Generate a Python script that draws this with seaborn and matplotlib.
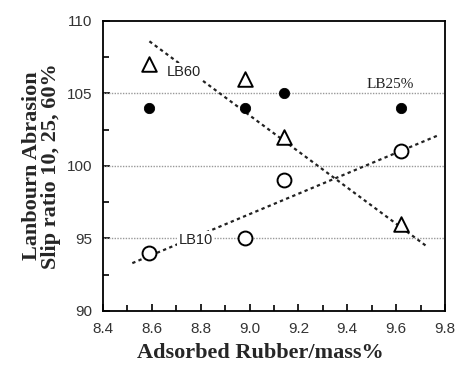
import numpy as np
import matplotlib
matplotlib.use("Agg")
import matplotlib.pyplot as plt
import seaborn as sns
from matplotlib.ticker import MultipleLocator

# Measured points
rubber = [8.59, 8.98, 9.14, 9.62]
lb60 = [107.0, 106.0, 102.0, 96.0]
lb25 = [104.0, 104.0, 105.0, 104.0]
lb10 = [94.0, 95.0, 99.0, 101.0]

# Dotted trend lines (end points)
lb60_fit_x = [8.59, 9.73]
lb60_fit_y = [108.6, 94.4]
lb10_fit_x = [8.52, 9.77]
lb10_fit_y = [93.3, 102.1]

grid_levels = [95, 100, 105]

sns.set_theme(style="white")
plt.rcParams["font.family"] = ["Liberation Sans", "DejaVu Sans"]

fig = plt.figure(figsize=(4.59, 3.67), dpi=100)
ax = fig.add_axes([0.2244, 0.1526, 0.7451, 0.7902])

for lv in grid_levels:
    ax.axhline(lv, color="#999999", lw=1.0, ls=(0, (1, 1)), zorder=1)

sns.lineplot(x=lb60_fit_x, y=lb60_fit_y, ax=ax, color="#222222", lw=1.6,
             linestyle=(0, (1.5, 1.5)), zorder=2)
sns.lineplot(x=lb10_fit_x, y=lb10_fit_y, ax=ax, color="#222222", lw=1.6,
             linestyle=(0, (1.5, 1.5)), zorder=2)

sns.scatterplot(x=rubber, y=lb60, ax=ax, marker="^", s=110, facecolor="white",
                edgecolor="black", linewidth=1.4, zorder=4)
sns.scatterplot(x=rubber, y=lb25, ax=ax, marker="o", s=55, color="black",
                edgecolor="black", zorder=4)
sns.scatterplot(x=rubber, y=lb10, ax=ax, marker="o", s=100, facecolor="white",
                edgecolor="black", linewidth=1.4, zorder=4)

box = dict(facecolor="white", edgecolor="none", pad=1)
ax.text(8.66, 106.5, "LB60", fontsize=10.5, color="#222222", va="center",
        bbox=box, zorder=3)
ax.text(8.71, 94.9, "LB10", fontsize=10.5, color="#222222", va="center",
        bbox=box, zorder=3)
ax.text(9.48, 105.2, "LB25%", fontsize=11, family="Liberation Serif",
        color="#222222", va="bottom", zorder=3)

ax.set_xlim(8.4, 9.8)
ax.set_ylim(90, 110)
ax.xaxis.set_major_locator(MultipleLocator(0.2))
ax.xaxis.set_minor_locator(MultipleLocator(0.1))
ax.yaxis.set_major_locator(MultipleLocator(5))
ax.yaxis.set_minor_locator(MultipleLocator(2.5))
ax.set_xticks(np.round(np.arange(8.4, 9.81, 0.2), 1))
ax.set_xticklabels([f"{v:.1f}" for v in np.arange(8.4, 9.81, 0.2)])
ax.tick_params(which="both", direction="in", color="black", width=1.2,
               labelsize=11, labelcolor="#333333", pad=8)
ax.tick_params(which="major", length=5)
ax.tick_params(which="minor", length=4)
ax.tick_params(axis="x", which="both", top=False, bottom=True)
ax.tick_params(axis="y", which="both", left=True, right=False)

for sp in ax.spines.values():
    sp.set_color("black")
    sp.set_linewidth(1.3)
    sp.set_visible(True)

ax.set_xlabel("Adsorbed Rubber/mass%", family="Liberation Serif",
              fontweight="bold", fontsize=16)
ax.xaxis.set_label_coords(0.46, -0.11)
ax.set_ylabel("Lanbourn Abrasion\nSlip ratio 10, 25, 60%",
              family="Liberation Serif", fontweight="bold", fontsize=16,
              labelpad=4, linespacing=0.95)

fig.savefig("out.png", dpi=100)
